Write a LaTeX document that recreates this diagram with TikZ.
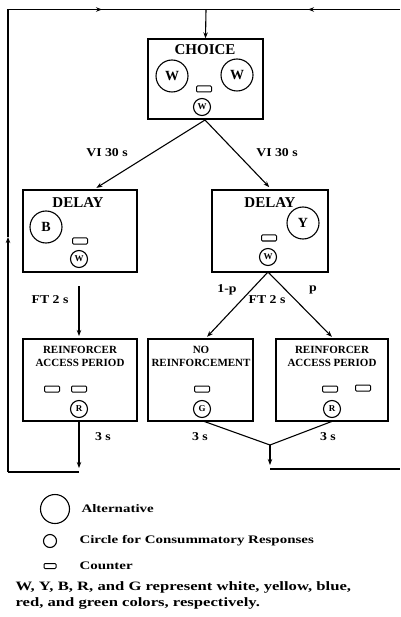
\documentclass[tikz,border=0pt]{standalone}
\usepackage{fontspec}
\setmainfont{Liberation Serif}
\newfontfamily\wide[FakeStretch=1.15]{Liberation Serif}
\newfontfamily\wider[FakeStretch=1.3]{Liberation Serif}
\usetikzlibrary{arrows.meta}
\begin{document}
\begin{tikzpicture}[x=1pt,y=-1pt,
 box/.style={draw, line width=1.3pt, inner sep=0pt},
 alt/.style={draw, circle, line width=1.1pt, minimum size=32pt, inner sep=0pt, font=\bfseries\fontsize{14}{14}\selectfont},
 cons/.style={draw, circle, line width=1.1pt, minimum size=17pt, inner sep=0pt, font=\bfseries\fontsize{9}{9}\selectfont},
 ctr/.style={draw, line width=1pt, rounded corners=1pt, minimum width=15pt, minimum height=6pt, inner sep=0pt},
 arr/.style={line width=1.1pt, -{Stealth[length=6pt,width=4.5pt]}},
 ln/.style={line width=1.1pt},
 ttl/.style={font=\bfseries\fontsize{15}{15}\selectfont},
 sub/.style={font=\bfseries\fontsize{11}{13}\selectfont, align=center},
 lab/.style={font=\wide\bfseries\fontsize{12}{12}\selectfont},
 leg/.style={font=\wider\bfseries\fontsize{11.5}{12}\selectfont, anchor=west},
]
\useasboundingbox (0,0) rectangle (400,617);

% boxes
\node[box, minimum width=115pt, minimum height=80pt] (choice) at (205.5,79) {};
\node[box, minimum width=114pt, minimum height=82pt] (delL) at (80,231) {};
\node[box, minimum width=116pt, minimum height=82pt] (delR) at (270,231) {};
\node[box, minimum width=114pt, minimum height=82pt] (reL) at (80,380) {};
\node[box, minimum width=105pt, minimum height=82pt] (noR) at (200.5,380) {};
\node[box, minimum width=112pt, minimum height=82pt] (reR) at (332,380) {};

% choice contents
\node[ttl] (tChoice) at (205,50) {CHOICE};
\node[alt] (cW1) at (172,76) {W};
\node[alt] (cW2) at (237,75) {W};
\node[ctr] (cC) at (204,89) {};
\node[cons] (cw) at (202,107) {W};

% delay left
\node[ttl] (tDL) at (78,203) {DELAY};
\node[alt] (dB) at (46,227) {B};
\node[ctr] (dLC) at (80,241) {};
\node[cons] (dLw) at (79,259) {W};

% delay right
\node[ttl] (tDR) at (270,203) {DELAY};
\node[alt] (dY) at (303,223) {Y};
\node[ctr] (dRC) at (269,238) {};
\node[cons] (dRw) at (268,257) {W};

% reinforcer left
\node[sub] (tRL) at (80,356) {REINFORCER\\ACCESS PERIOD};
\node[ctr] (rLC1) at (52,389) {};
\node[ctr] (rLC2) at (79,389) {};
\node[cons] (rLR) at (79,409) {R};

% no reinforcement
\node[sub] (tNR) at (201,356) {NO\\REINFORCEMENT};
\node[ctr] (nC) at (202,389) {};
\node[cons] (nG) at (202,409) {G};

% reinforcer right
\node[sub] (tRR) at (332,356) {REINFORCER\\ACCESS PERIOD};
\node[ctr] (rRC1) at (330,389) {};
\node[ctr] (rRC2) at (363,388) {};
\node[cons] (rRR) at (332,409) {R};

% connectors
\coordinate (cs) at (205,120);
\coordinate (dLt) at (93,190);
\coordinate (dRt) at (272,190);
\draw[arr, shorten >=4pt] (cs) -- (dLt);
\draw[arr, shorten >=4pt] (cs) -- (dRt);
\node[lab] (vi1) at (107,153) {VI 30 s};
\node[lab] (vi2) at (277,153) {VI 30 s};

\coordinate (ftS) at (79,286);
\coordinate (ftE) at (79,339);
\draw[arr, shorten >=3pt] (ftS) -- (ftE);
\node[lab] (ft1) at (50,300) {FT 2 s};

\coordinate (dRb) at (268,272);
\coordinate (nTop) at (205,339);
\coordinate (rTop) at (334,339);
\draw[arr, shorten >=3pt] (dRb) -- (nTop);
\draw[arr, shorten >=3pt] (dRb) -- (rTop);
\node[lab] (pq) at (227,290) {1-p};
\node[lab] (ft2) at (267,300) {FT 2 s};
\node[lab] (pp) at (313,290) {p};

% bottom and loops
\coordinate (lb) at (79,421);
\coordinate (lc) at (79,472);
\coordinate (lcl) at (8,472);
\coordinate (lmid) at (8,237);
\coordinate (ltl) at (8,9.5);
\coordinate (tA) at (102,9.5);
\coordinate (tm) at (206,9.5);
\coordinate (tB) at (308,9.5);
\coordinate (tr) at (400,9.5);
\draw[arr, shorten >=4pt] (lb) -- (lc);
\draw[ln] (lc) -- (lcl);
\draw[arr] (lcl) -- (lmid);
\draw[ln] (lmid) -- (ltl) -- (tr);
\draw[arr] (ltl) -- (tA);
\draw[arr] (tr) -- (tB);
\draw[arr] (tm) -- (choice.north);
\node[lab] (s1) at (103,437) {3 s};

\coordinate (nb) at (203,421);
\coordinate (rb) at (333,421);
\coordinate (jn) at (270,445);
\coordinate (jd) at (270,469);
\coordinate (jr) at (400,469);
\draw[ln] (nb) -- (jn) -- (rb);
\draw[arr, shorten >=4pt] (jn) -- (jd);
\draw[ln] (jd) -- (jr);
\node[lab] (s2) at (200,437) {3 s};
\node[lab] (s3) at (328,437) {3 s};

% legend
\node[draw, circle, line width=1.1pt, minimum size=29pt, inner sep=0pt] (lgA) at (55,509) {};
\node[leg] (lgAt) at (78,509) {Alternative};
\node[draw, circle, line width=1.1pt, minimum size=13pt, inner sep=0pt] (lgC) at (50,541) {};
\node[leg] (lgCt) at (76,541) {Circle for Consummatory Responses};
\node[draw, line width=1pt, rounded corners=1pt, minimum width=12pt, minimum height=5pt, inner sep=0pt] (lgK) at (50,566) {};
\node[leg] (lgKt) at (76,566) {Counter};
\node[leg, align=left, font=\wider\bfseries\fontsize{12.8}{16}\selectfont] (foot) at (12,595) {W, Y, B, R, and G represent white, yellow, blue,\\red, and green colors, respectively.};
\end{tikzpicture}
\end{document}
